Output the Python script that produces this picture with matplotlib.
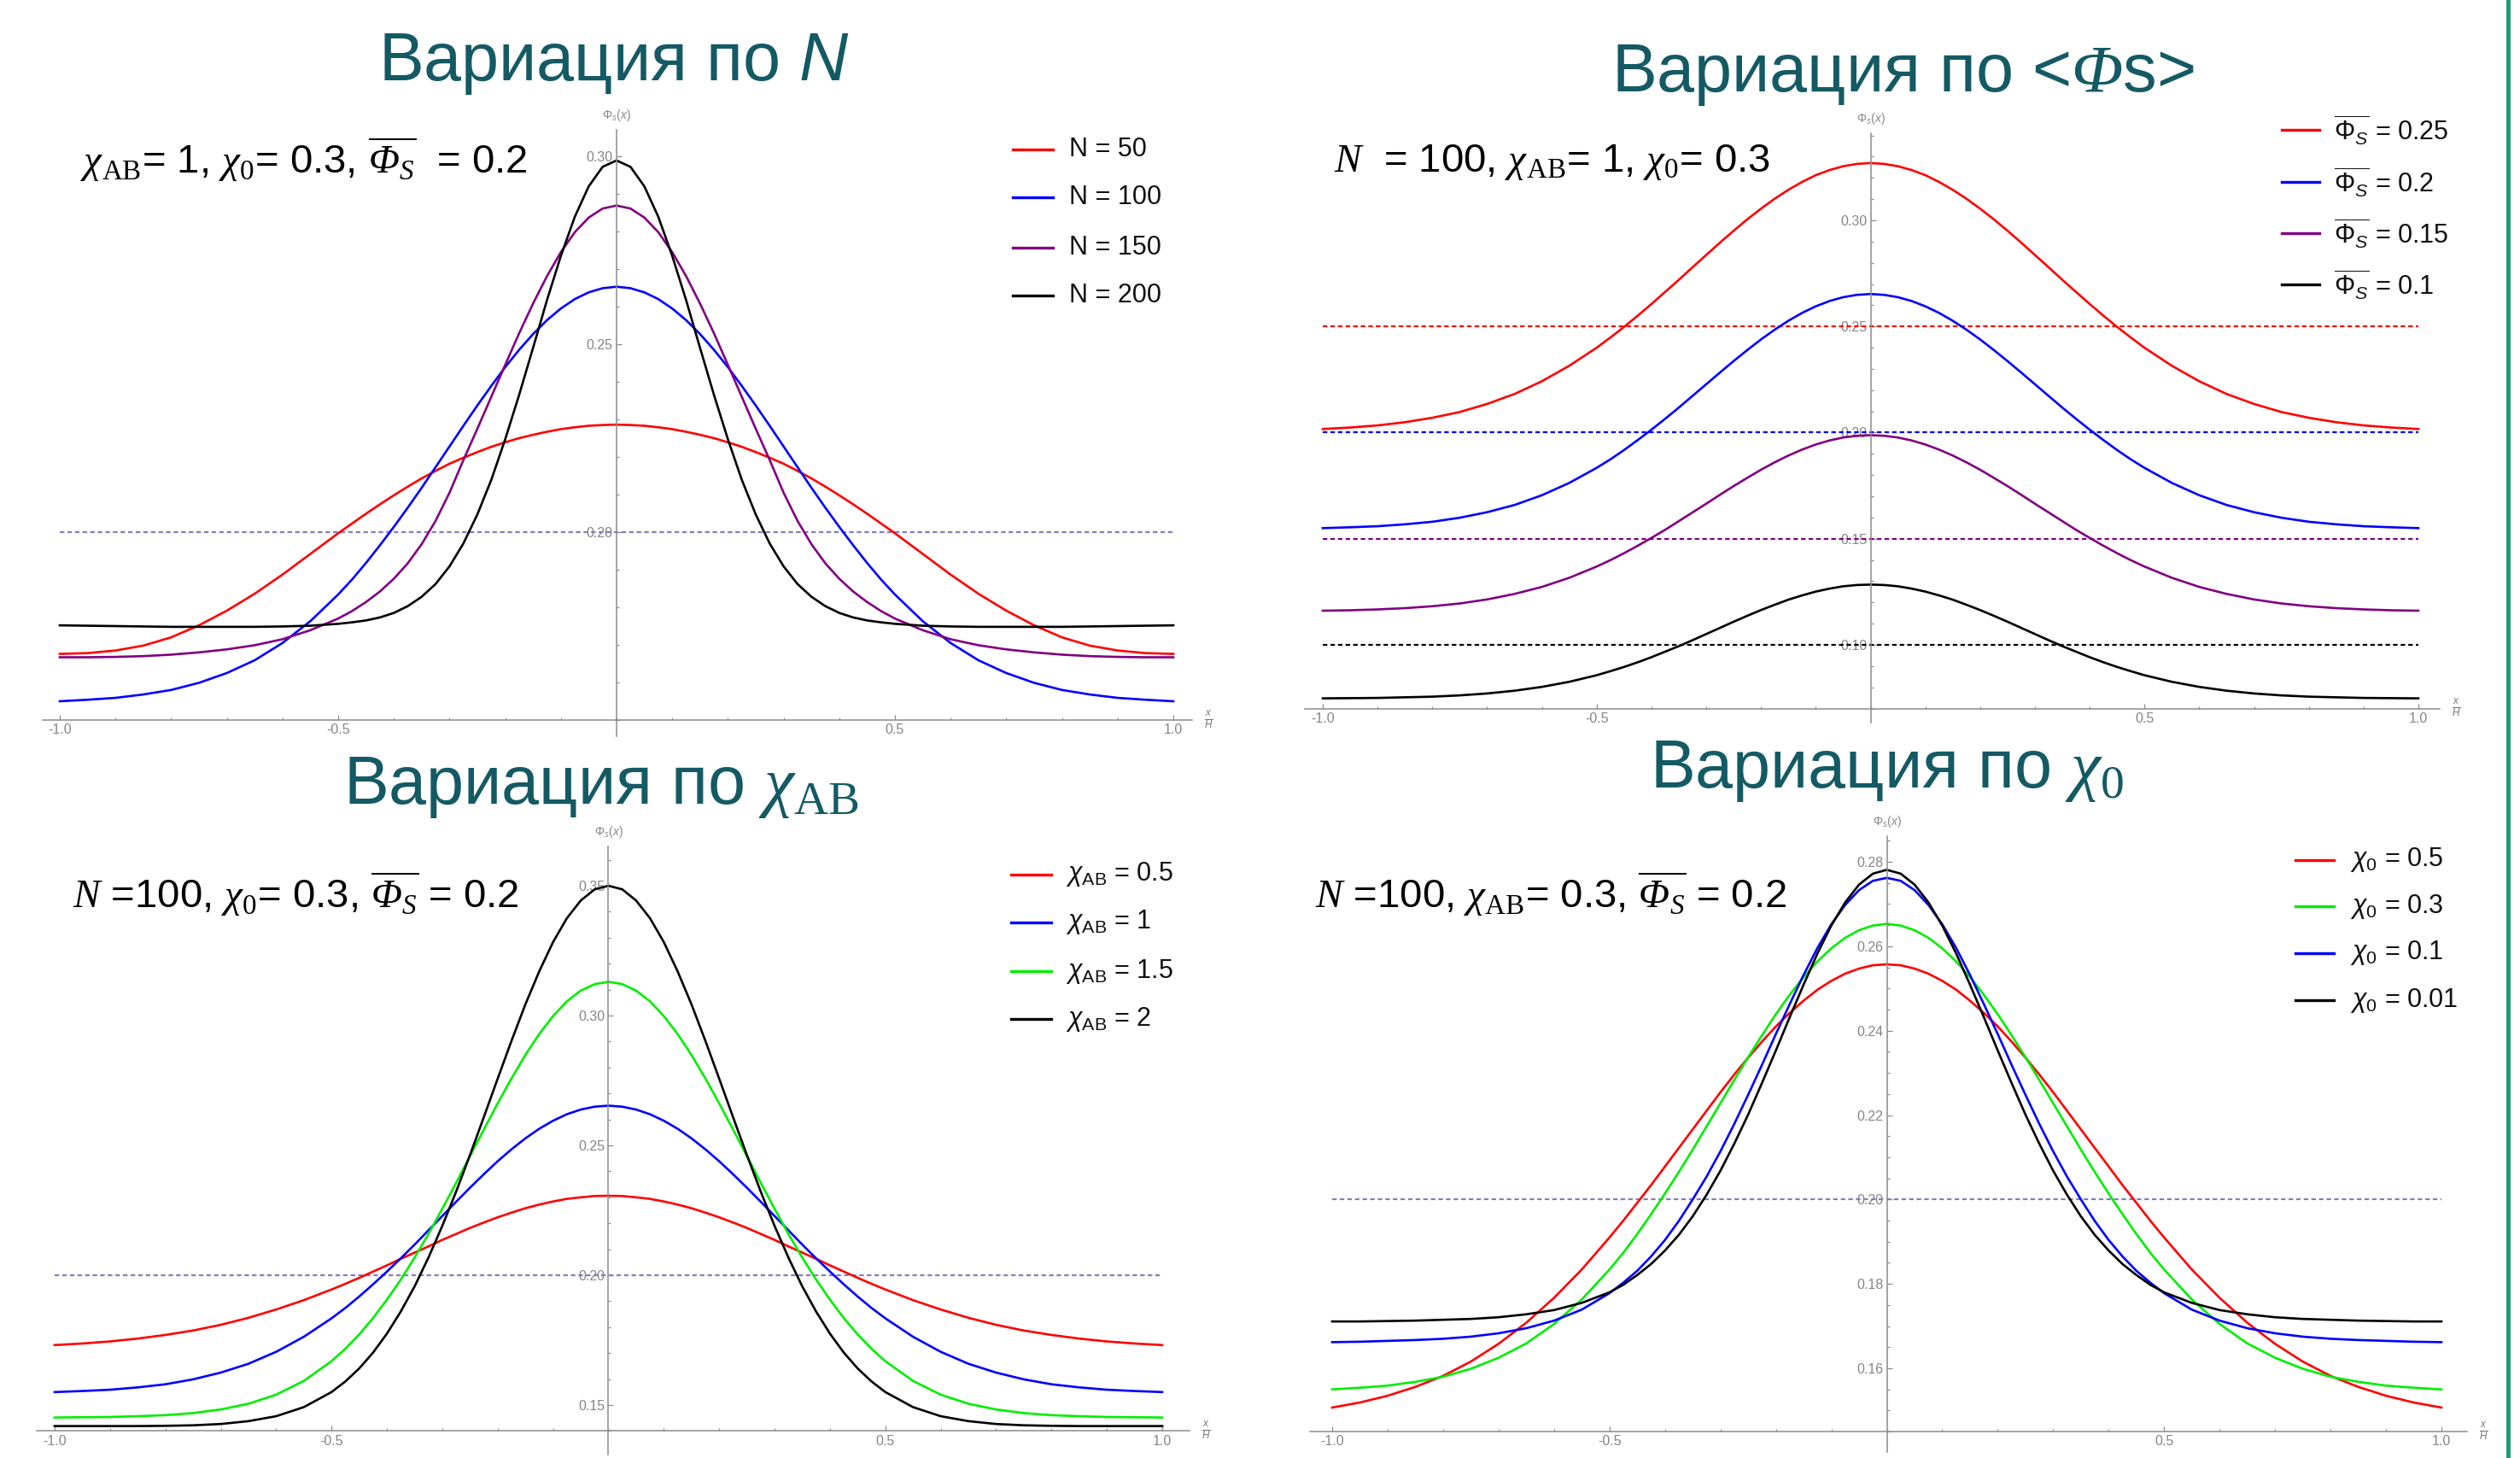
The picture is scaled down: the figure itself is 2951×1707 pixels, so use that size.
import numpy as np
import matplotlib
matplotlib.use("Agg")
import matplotlib.pyplot as plt
from matplotlib.lines import Line2D
from matplotlib.ticker import MultipleLocator, FixedLocator, FormatStrFormatter

plt.rcParams['font.family'] = ['Liberation Sans', 'DejaVu Sans']
plt.rcParams['mathtext.fontset'] = 'custom'
plt.rcParams['mathtext.rm'] = 'Liberation Sans'
plt.rcParams['mathtext.it'] = 'Liberation Sans:italic'
# serif (Times-like) slots, used for the formula-style text
plt.rcParams['mathtext.sf'] = 'Liberation Serif:italic'
plt.rcParams['mathtext.bf'] = 'Liberation Serif'
plt.rcParams['axes.unicode_minus'] = False

# x/H sample points (half profile, curves are symmetric about x = 0)
x_half = [0, 0.025, 0.05, 0.075, 0.1, 0.125, 0.15, 0.175, 0.2, 0.225, 0.25, 0.275, 0.3,
          0.325, 0.35, 0.375, 0.4, 0.425, 0.45, 0.475, 0.5,
          0.55, 0.6, 0.65, 0.7, 0.75, 0.8, 0.85, 0.9, 0.95, 1.0]

# reference profile: N=100, chiAB=1, chi0=0.3, <phi>=0.2 (blue in 3 panels, green in the 4th)
phi_ref = [0.2653, 0.2649, 0.2638, 0.2620, 0.2595, 0.2564, 0.2527, 0.2485, 0.2439, 0.2389,
           0.2337, 0.2283, 0.2228, 0.2173, 0.2118, 0.2065, 0.2014, 0.1965, 0.1918, 0.1874,
           0.1834, 0.1763, 0.1705, 0.1659, 0.1625, 0.1599, 0.1580, 0.1568, 0.1559, 0.1554,
           0.1550]

# panel 1: variation of N
phi_n50 = [0.2286, 0.2285, 0.2283, 0.2279, 0.2274, 0.2267, 0.2259, 0.2250, 0.2239, 0.2227,
           0.2213, 0.2198, 0.2182, 0.2163, 0.2143, 0.2121, 0.2098, 0.2074, 0.2049, 0.2023,
           0.1997, 0.1942, 0.1887, 0.1836, 0.1791, 0.1752, 0.1720, 0.1698, 0.1685, 0.1678,
           0.1676]
phi_n150 = [0.2869, 0.2861, 0.2837, 0.2798, 0.2745, 0.2681, 0.2608, 0.2529, 0.2445, 0.2360,
            0.2275, 0.2192, 0.2105, 0.2030, 0.1968, 0.1917, 0.1876, 0.1842, 0.1814, 0.1790,
            0.1770, 0.1739, 0.1715, 0.1699, 0.1688, 0.1680, 0.1674, 0.1670, 0.1668, 0.1667,
            0.1667]
phi_n200 = [0.2989, 0.2972, 0.2920, 0.2839, 0.2735, 0.2617, 0.2490, 0.2365, 0.2247, 0.2139,
            0.2047, 0.1970, 0.1909, 0.1862, 0.1828, 0.1803, 0.1785, 0.1773, 0.1765, 0.1760,
            0.1756, 0.1751, 0.1749, 0.1748, 0.1748, 0.1748, 0.1748, 0.1749, 0.1750, 0.1751,
            0.1752]

# panel 2: variation of mean phi
phi_m25 = [0.3270, 0.3266, 0.3255, 0.3237, 0.3213, 0.3181, 0.3144, 0.3102, 0.3055, 0.3005,
           0.2951, 0.2895, 0.2837, 0.2779, 0.2720, 0.2663, 0.2606, 0.2551, 0.2498, 0.2448,
           0.2400, 0.2315, 0.2242, 0.2182, 0.2135, 0.2097, 0.2070, 0.2049, 0.2034, 0.2024,
           0.2017]
phi_m15 = [0.1988, 0.1985, 0.1977, 0.1963, 0.1944, 0.1920, 0.1892, 0.1860, 0.1825, 0.1787,
           0.1748, 0.1707, 0.1665, 0.1624, 0.1583, 0.1542, 0.1504, 0.1467, 0.1432, 0.1399,
           0.1369, 0.1316, 0.1273, 0.1240, 0.1214, 0.1195, 0.1182, 0.1173, 0.1167, 0.1163,
           0.1161]
phi_m10 = [0.1284, 0.1282, 0.1276, 0.1265, 0.1251, 0.1233, 0.1213, 0.1189, 0.1164, 0.1137,
           0.1109, 0.1080, 0.1051, 0.1022, 0.0994, 0.0968, 0.0942, 0.0918, 0.0896, 0.0876,
           0.0857, 0.0826, 0.0802, 0.0784, 0.0771, 0.0762, 0.0756, 0.0753, 0.0750, 0.0749,
           0.0748]
mean_levels = [0.25, 0.20, 0.15, 0.10]

# panel 3: variation of chiAB
phi_ab05 = [0.2306, 0.2305, 0.2300, 0.2294, 0.2284, 0.2272, 0.2258, 0.2241, 0.2223, 0.2203,
            0.2182, 0.2159, 0.2136, 0.2111, 0.2087, 0.2063, 0.2038, 0.2014, 0.1990, 0.1967,
            0.1945, 0.1904, 0.1868, 0.1836, 0.1809, 0.1787, 0.1770, 0.1756, 0.1745, 0.1737,
            0.1731]
phi_ab15 = [0.3130, 0.3121, 0.3096, 0.3055, 0.2998, 0.2929, 0.2848, 0.2758, 0.2662, 0.2561,
            0.2459, 0.2356, 0.2256, 0.2159, 0.2068, 0.1983, 0.1906, 0.1835, 0.1772, 0.1717,
            0.1669, 0.1593, 0.1540, 0.1505, 0.1483, 0.1469, 0.1461, 0.1457, 0.1454, 0.1453,
            0.1452]
phi_ab2 = [0.3500, 0.3486, 0.3443, 0.3375, 0.3283, 0.3170, 0.3043, 0.2903, 0.2757, 0.2609,
           0.2463, 0.2322, 0.2190, 0.2068, 0.1957, 0.1860, 0.1775, 0.1702, 0.1641, 0.1591,
           0.1550, 0.1492, 0.1457, 0.1438, 0.1427, 0.1422, 0.1420, 0.1419, 0.1419, 0.1419,
           0.1419]

# panel 4: variation of chi0
phi_c05 = [0.2557, 0.2555, 0.2547, 0.2535, 0.2518, 0.2497, 0.2471, 0.2442, 0.2410, 0.2374,
           0.2336, 0.2296, 0.2254, 0.2210, 0.2166, 0.2122, 0.2078, 0.2034, 0.1992, 0.1950,
           0.1910, 0.1834, 0.1767, 0.1708, 0.1658, 0.1616, 0.1582, 0.1556, 0.1535, 0.1519,
           0.1507]
phi_c01 = [0.2762, 0.2755, 0.2733, 0.2698, 0.2652, 0.2596, 0.2532, 0.2463, 0.2392, 0.2319,
           0.2248, 0.2179, 0.2114, 0.2054, 0.2000, 0.1949, 0.1904, 0.1865, 0.1831, 0.1803,
           0.1778, 0.1739, 0.1713, 0.1695, 0.1683, 0.1675, 0.1670, 0.1667, 0.1665, 0.1663,
           0.1662]
phi_c001 = [0.2781, 0.2772, 0.2746, 0.2704, 0.2649, 0.2583, 0.2509, 0.2432, 0.2353, 0.2276,
            0.2201, 0.2132, 0.2068, 0.2011, 0.1960, 0.1916, 0.1879, 0.1847, 0.1821, 0.1798,
            0.1780, 0.1755, 0.1738, 0.1728, 0.1721, 0.1717, 0.1715, 0.1713, 0.1712, 0.1711,
            0.1711]

labels_n = ['N = 50', 'N = 100', 'N = 150', 'N = 200']
labels_m = [r'$\overline{\Phi_S}$ = 0.25', r'$\overline{\Phi_S}$ = 0.2',
            r'$\overline{\Phi_S}$ = 0.15', r'$\overline{\Phi_S}$ = 0.1']
labels_ab = [r'$\chi_{\mathrm{AB}}$ = 0.5', r'$\chi_{\mathrm{AB}}$ = 1',
             r'$\chi_{\mathrm{AB}}$ = 1.5', r'$\chi_{\mathrm{AB}}$ = 2']
labels_c = [r'$\chi_0$ = 0.5', r'$\chi_0$ = 0.3', r'$\chi_0$ = 0.1', r'$\chi_0$ = 0.01']

RED, BLUE, PURPLE, GREEN, BLACK = '#ff0000', '#0000ff', '#800080', '#00ee00', '#000000'
TEAL = '#145a64'
AX_GRAY = '#8c8c8c'
AVG_GRAY = '#8080bc'

CHI = r'$\mathsf{\chi}$'
CHI_AB = r'$\mathsf{\chi}_{\mathbf{AB}}$'
CHI_0 = r'$\mathsf{\chi}_{\mathbf{0}}$'
PHI_BAR = r'$\overline{\mathsf{\Phi}_{\mathsf{S}}}$'
N_IT = r'$\mathsf{N}$'

W, H = 2951, 1707
fig = plt.figure(figsize=(W / 100, H / 100), dpi=100)


def full(v):
    v = np.asarray(v, float)
    return np.concatenate([v[::-1], v[1:]])


xs = np.concatenate([-np.asarray(x_half)[::-1], np.asarray(x_half)[1:]])


def px_axes(xm1, xp1, yref, xlim, ylim):
    (v1, p1), (v2, p2) = yref
    kx = (xp1 - xm1) / 2.0
    ky = (p2 - p1) / (v1 - v2)
    left = xm1 + (xlim[0] + 1) * kx
    right = xm1 + (xlim[1] + 1) * kx
    top = p1 + (v1 - ylim[1]) * ky
    bottom = p1 + (v1 - ylim[0]) * ky
    ax = fig.add_axes([left / W, 1 - bottom / H, (right - left) / W, (bottom - top) / H])
    ax.set_xlim(*xlim)
    ax.set_ylim(*ylim)
    return ax


def style(ax, y0, ymajor, yminor):
    ax.patch.set_alpha(0)
    for s in ('top', 'right'):
        ax.spines[s].set_visible(False)
    ax.spines['left'].set_position(('data', 0))
    ax.spines['bottom'].set_position(('data', y0))
    for s in ('left', 'bottom'):
        ax.spines[s].set_color(AX_GRAY)
        ax.spines[s].set_linewidth(1.1)
    ax.xaxis.set_major_locator(FixedLocator([-1, -0.5, 0.5, 1]))
    ax.xaxis.set_minor_locator(MultipleLocator(0.1))
    ax.xaxis.set_major_formatter(FormatStrFormatter('%.1f'))
    ax.yaxis.set_major_locator(FixedLocator(ymajor))
    ax.yaxis.set_minor_locator(MultipleLocator(yminor))
    ax.yaxis.set_major_formatter(FormatStrFormatter('%.2f'))
    ax.tick_params(which='both', direction='in', color=AX_GRAY, labelcolor='#858585',
                   labelsize=11.5, width=0.9)
    ax.tick_params(which='major', length=4, pad=3)
    ax.tick_params(which='minor', length=2.5)
    xr = ax.get_xlim()[1]
    ax.annotate(r'$\frac{x}{H}$', xy=(xr, y0), xytext=(10, 0), textcoords='offset points',
                ha='left', va='center', fontsize=12, color='#777777', annotation_clip=False)
    ax.annotate(r'$\Phi_s(x)$', xy=(0, ax.get_ylim()[1]), xytext=(0, 6),
                textcoords='offset points', ha='center', va='bottom', fontsize=10,
                color='#888888', annotation_clip=False)


def legend(colors, labels, lx0, lx1, tx, rows):
    for c, lab, y in zip(colors, labels, rows):
        fig.add_artist(Line2D([lx0 / W, lx1 / W], [1 - y / H, 1 - y / H],
                              transform=fig.transFigure, color=c, lw=2.4))
        fig.text(tx / W, 1 - y / H, lab, ha='left', va='center', fontsize=22, color='#111111')


def param_text(x, y, s):
    fig.text(x / W, 1 - y / H, s, ha='left', va='baseline', fontsize=34, color='black')


def title(cx, y, s):
    fig.text(cx / W, 1 - y / H, s, ha='center', va='baseline', fontsize=57, color=TEAL)


dot = (0, (2.4, 1.6))

# ---- panel 1: N ----
ax1 = px_axes(70, 1374, ((0.30, 183), (0.20, 623)), (-1.03, 1.034), (0.1457, 0.307))
style(ax1, 0.15, [0.20, 0.25, 0.30], 0.01)
ax1.hlines(0.20, -1, 1, colors=AVG_GRAY, linestyles=dot, lw=1.6)
cols1 = [RED, BLUE, PURPLE, BLACK]
for c, v in zip(cols1, [phi_n50, phi_ref, phi_n150, phi_n200]):
    ax1.plot(xs, full(v), color=c, lw=1.9)
legend(cols1, labels_n, 1186, 1233, 1252, [175, 231, 290, 346])
param_text(94, 203, CHI_AB + '= 1, ' + CHI_0 + '= 0.3, ' + PHI_BAR + '  = 0.2')
title(719, 94, 'Вариация по ' + r'$\mathit{N}$')

# ---- panel 2: mean phi ----
ax2 = px_axes(1549, 2832, ((0.30, 258), (0.10, 755)), (-1.033, 1.039), (0.0632, 0.341))
style(ax2, 0.07, [0.10, 0.15, 0.20, 0.25, 0.30], 0.01)
cols2 = [RED, BLUE, PURPLE, BLACK]
for c, lev in zip(cols2, mean_levels):
    ax2.hlines(lev, -1, 1, colors=c, linestyles=dot, lw=1.6)
for c, v in zip(cols2, [phi_m25, phi_ref, phi_m15, phi_m10]):
    ax2.plot(xs, full(v), color=c, lw=1.9)
legend(cols2, labels_m, 2672, 2716, 2733, [152, 213, 273, 333])
param_text(1562, 201, N_IT + '  = 100, ' + CHI_AB + '= 1, ' + CHI_0 + '= 0.3')
title(2228, 107, 'Вариация по <' + r'$\mathsf{\Phi}$' + 's>')

# ---- panel 3: chiAB ----
ax3 = px_axes(64, 1361, ((0.35, 1037), (0.15, 1645)), (-1.032, 1.049), (0.1308, 0.365))
style(ax3, 0.14, [0.15, 0.20, 0.25, 0.30, 0.35], 0.01)
ax3.hlines(0.20, -1, 1, colors=AVG_GRAY, linestyles=dot, lw=1.6)
cols3 = [RED, BLUE, GREEN, BLACK]
for c, v in zip(cols3, [phi_ab05, phi_ref, phi_ab15, phi_ab2]):
    ax3.plot(xs, full(v), color=c, lw=1.9)
legend(cols3, labels_ab, 1184, 1231, 1248, [1024, 1080, 1137, 1193])
param_text(85, 1063, N_IT + ' =100, ' + CHI_0 + '= 0.3, ' + PHI_BAR + ' = 0.2')
title(704, 941, 'Вариация по ' + CHI_AB)

# ---- panel 4: chi0 ----
ax4 = px_axes(1560, 2859, ((0.28, 1009), (0.16, 1602)), (-1.04, 1.046), (0.1402, 0.286))
style(ax4, 0.145, [0.16, 0.18, 0.20, 0.22, 0.24, 0.26, 0.28], 0.005)
ax4.hlines(0.20, -1, 1, colors=AVG_GRAY, linestyles=dot, lw=1.6)
cols4 = [RED, GREEN, BLUE, BLACK]
for c, v in zip(cols4, [phi_c05, phi_ref, phi_c01, phi_c001]):
    ax4.plot(xs, full(v), color=c, lw=1.9)
legend(cols4, labels_c, 2688, 2733, 2752, [1007, 1061, 1116, 1171])
param_text(1540, 1063, N_IT + ' =100, ' + CHI_AB + '= 0.3, ' + PHI_BAR + ' = 0.2')
title(2210, 922, 'Вариация по ' + CHI_0)

# slide border on the right
fig.add_artist(Line2D([2937 / W, 2937 / W], [0, 1], transform=fig.transFigure,
                      color='#1a9b78', lw=3.5))

fig.savefig('out.png', dpi=100)
